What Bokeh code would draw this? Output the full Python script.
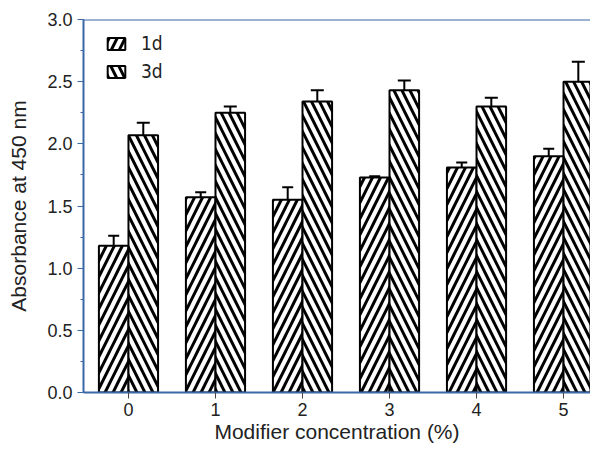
from bokeh.plotting import figure
from bokeh.models import (ColumnDataSource, Range1d, FixedTicker, SingleIntervalTicker,
                          NumeralTickFormatter, Whisker, TeeHead, Legend, LegendItem, Span)
from bokeh.transform import dodge
from bokeh.embed import file_html
from bokeh.resources import INLINE

concentration = [0, 1, 2, 3, 4, 5]
day1 = [1.18, 1.57, 1.55, 1.73, 1.81, 1.90]
day1_err = [1.26, 1.61, 1.65, 1.74, 1.85, 1.96]
day3 = [2.07, 2.25, 2.34, 2.43, 2.30, 2.50]
day3_err = [2.17, 2.30, 2.43, 2.51, 2.37, 2.66]
x_labels = ["0", "1", "2", "3", "4", "5"]

src = ColumnDataSource(dict(x=concentration, d1=day1, d1e=day1_err, d3=day3, d3e=day3_err))

BLUE = "#3a67a6"
FONT = "Liberation Sans"

p = figure(width=590, height=445, output_backend="svg", toolbar_location=None,
           x_range=Range1d(-0.517, 5.31), y_range=Range1d(0, 3.0),
           min_border_left=83, min_border_top=19, min_border_bottom=50, min_border_right=0)
p.outline_line_color = None
p.xgrid.visible = False
p.ygrid.visible = False
p.background_fill_color = "white"

r1 = p.vbar(x=dodge("x", -0.17), top="d1", width=0.34, source=src,
            fill_color="white", line_color="black", line_width=2,
            hatch_pattern="/", hatch_color="black", hatch_scale=16, hatch_weight=3)
r3 = p.vbar(x=dodge("x", 0.17), top="d3", width=0.34, source=src,
            fill_color="white", line_color="black", line_width=2,
            hatch_pattern="\\", hatch_color="black", hatch_scale=16, hatch_weight=3)

for off, lo, hi, sz in [(-0.17, "d1", "d1e", 11), (0.17, "d3", "d3e", 13)]:
    w = Whisker(base=dodge("x", off), lower=lo, upper=hi, source=src, dimension="height",
                line_color="black", line_width=2,
                upper_head=TeeHead(size=sz, line_color="black", line_width=2),
                lower_head=None)
    p.add_layout(w)

p.add_layout(Span(location=3.0, dimension="width", line_color=BLUE, line_width=2))

# axes
p.xaxis.ticker = FixedTicker(ticks=concentration)
p.xaxis.major_label_overrides = {c: l for c, l in zip(concentration, x_labels)}
p.xaxis.minor_tick_line_color = None
p.xaxis.major_tick_in = 0
p.xaxis.major_tick_out = 6
p.xaxis.major_tick_line_color = "#444444"
p.xaxis.axis_line_color = BLUE
p.xaxis.axis_line_width = 2
p.xaxis.axis_label = "Modifier concentration (%)"

p.yaxis.ticker = SingleIntervalTicker(interval=0.5, num_minor_ticks=2)
p.yaxis.formatter = NumeralTickFormatter(format="0.0")
p.yaxis.major_tick_in = 0
p.yaxis.major_tick_out = 6
p.yaxis.minor_tick_in = 0
p.yaxis.minor_tick_out = 3
p.yaxis.major_tick_line_color = BLUE
p.yaxis.minor_tick_line_color = BLUE
p.yaxis.axis_line_color = BLUE
p.yaxis.axis_line_width = 2
p.yaxis.axis_label = "Absorbance at 450 nm"

for ax in (p.xaxis, p.yaxis):
    ax.major_label_text_font = FONT
    ax.major_label_text_font_size = "18px"
    ax.major_label_text_color = "#222222"
    ax.axis_label_text_font = FONT
    ax.axis_label_text_font_size = "21px"
    ax.axis_label_text_font_style = "normal"
    ax.axis_label_text_color = "#222222"
p.yaxis.major_label_standoff = 5
p.xaxis.major_label_standoff = 4
p.yaxis.axis_label_standoff = 14
p.xaxis.axis_label_standoff = 1

legend = Legend(items=[LegendItem(label="1d", renderers=[r1]),
                       LegendItem(label="3d", renderers=[r3])],
                location=(22, 310), orientation="vertical",
                glyph_width=22, glyph_height=15, spacing=6, padding=0, margin=0,
                label_standoff=14, border_line_color=None, background_fill_alpha=0,
                label_text_font="DejaVu Sans Condensed", label_text_font_size="19px",
                label_text_color="#222222")
p.add_layout(legend)

open("out.html", "w").write(file_html(p, INLINE))
